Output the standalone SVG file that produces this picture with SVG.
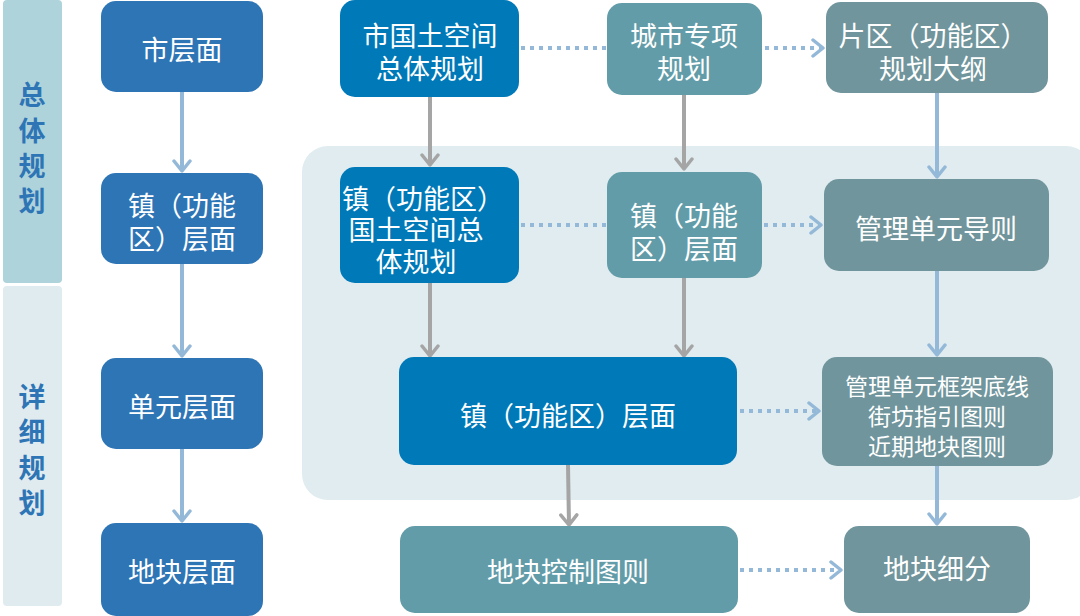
<svg xmlns="http://www.w3.org/2000/svg" width="1080" height="616" viewBox="0 0 1080 616">
<defs>
<style>
.t{font-family:"Noto Sans CJK SC","Noto Sans",sans-serif;fill:#fff;font-size:27px;text-anchor:middle}
.s{font-size:23px}
.band{font-family:"Noto Sans CJK SC","Noto Sans",sans-serif;fill:#2E75B6;font-size:27px;font-weight:bold;text-anchor:middle}
.lv{fill:#2E75B6}
.db{fill:#0079B8}
.tl{fill:#629CA8}
.gt{fill:#70959C}
.cb{stroke:#94B9D8;stroke-width:4;fill:none}
.cg{stroke:#A5A5A5;stroke-width:4;fill:none}
.cd{stroke:#94B9D8;stroke-width:4;fill:none;stroke-dasharray:4 5}
</style>
<marker id="ab" viewBox="0 0 14 20" refX="12" refY="10" markerWidth="14" markerHeight="20" markerUnits="userSpaceOnUse" orient="auto"><path d="M2,2 L12,10 L2,18" fill="none" stroke="#94B9D8" stroke-width="3.5" stroke-linecap="round" stroke-linejoin="round"/></marker>
<marker id="ag" viewBox="0 0 14 20" refX="12" refY="10" markerWidth="14" markerHeight="20" markerUnits="userSpaceOnUse" orient="auto"><path d="M2,2 L12,10 L2,18" fill="none" stroke="#A5A5A5" stroke-width="3.5" stroke-linecap="round" stroke-linejoin="round"/></marker>
</defs>
<rect width="1080" height="616" fill="#fff"/>
<g id="bands">
<rect x="3" y="0" width="59" height="283" rx="4" fill="#AED3DB"/>
<rect x="3" y="286" width="59" height="320" rx="4" fill="#DFEBEF"/>
<text class="band"><tspan x="32" y="105">总</tspan><tspan x="32" y="141">体</tspan><tspan x="32" y="176">规</tspan><tspan x="32" y="211">划</tspan></text>
<text class="band"><tspan x="32" y="407">详</tspan><tspan x="32" y="442">细</tspan><tspan x="32" y="478">规</tspan><tspan x="32" y="513">划</tspan></text>
</g>
<rect id="panel" x="302" y="146" width="790" height="354" rx="26" fill="#E0ECEF"/>
<g id="connectors">
<line class="cb" x1="182" y1="92" x2="182" y2="171" marker-end="url(#ab)"/>
<line class="cb" x1="182" y1="264" x2="182" y2="356" marker-end="url(#ab)"/>
<line class="cb" x1="182" y1="449" x2="182" y2="521" marker-end="url(#ab)"/>
<line class="cg" x1="430" y1="97" x2="430" y2="165" marker-end="url(#ag)"/>
<line class="cg" x1="684" y1="95" x2="684" y2="169" marker-end="url(#ag)"/>
<line class="cg" x1="430" y1="283" x2="430" y2="356" marker-end="url(#ag)"/>
<line class="cg" x1="684" y1="278" x2="684" y2="356" marker-end="url(#ag)"/>
<line class="cg" x1="568" y1="465" x2="569" y2="525" marker-end="url(#ag)"/>
<line class="cb" x1="937" y1="93" x2="937" y2="177" marker-end="url(#ab)"/>
<line class="cb" x1="937" y1="271" x2="937" y2="355" marker-end="url(#ab)"/>
<line class="cb" x1="937" y1="466" x2="937" y2="524" marker-end="url(#ab)"/>
<line class="cd" x1="521" y1="48" x2="606" y2="48"/>
<line class="cd" x1="765" y1="48" x2="823" y2="48" marker-end="url(#ab)"/>
<line class="cd" x1="521" y1="225" x2="606" y2="225"/>
<line class="cd" x1="764" y1="225" x2="821" y2="225" marker-end="url(#ab)"/>
<line class="cd" x1="740" y1="411" x2="819" y2="411" marker-end="url(#ab)"/>
<line class="cd" x1="740" y1="570" x2="841" y2="570" marker-end="url(#ab)"/>
</g>
<g id="n-city"><rect class="lv" x="101" y="1" width="162" height="91" rx="15"/><text class="t" x="182" y="60">市层面</text></g>
<g id="n-town"><rect class="lv" x="101" y="173" width="162" height="91" rx="15"/><text class="t"><tspan x="182" y="216">镇（功能</tspan><tspan x="182" y="249">区）层面</tspan></text></g>
<g id="n-unit"><rect class="lv" x="101" y="358" width="162" height="91" rx="15"/><text class="t" x="182" y="417">单元层面</text></g>
<g id="n-plot"><rect class="lv" x="101" y="523" width="162" height="93" rx="15"/><text class="t" x="182" y="582">地块层面</text></g>
<g id="n-citymaster"><rect class="db" x="340" y="0" width="179" height="97" rx="15"/><text class="t"><tspan x="430" y="46">市国土空间</tspan><tspan x="430" y="79">总体规划</tspan></text></g>
<g id="n-special"><rect class="tl" x="607" y="3" width="155" height="92" rx="15"/><text class="t"><tspan x="684" y="46">城市专项</tspan><tspan x="684" y="79">规划</tspan></text></g>
<g id="n-district"><rect class="gt" x="826" y="2" width="222" height="91" rx="15"/><text class="t"><tspan x="933" y="46">片区（功能区）</tspan><tspan x="933" y="79">规划大纲</tspan></text></g>
<g id="n-townmaster"><rect class="db" x="340" y="167" width="179" height="116" rx="15"/><text class="t"><tspan x="423" y="209">镇（功能区）</tspan><tspan x="416" y="240">国土空间总</tspan><tspan x="416" y="272">体规划</tspan></text></g>
<g id="n-townlevel"><rect class="tl" x="607" y="172" width="155" height="106" rx="15"/><text class="t"><tspan x="684" y="226">镇（功能</tspan><tspan x="684" y="259">区）层面</tspan></text></g>
<g id="n-guide"><rect class="gt" x="824" y="179" width="225" height="92" rx="15"/><text class="t" x="936" y="239">管理单元导则</text></g>
<g id="n-townbig"><rect class="db" x="399" y="357" width="338" height="108" rx="15"/><text class="t" x="568" y="426">镇（功能区）层面</text></g>
<g id="n-frame"><rect class="gt" x="822" y="357" width="231" height="109" rx="15"/><text class="t s"><tspan x="937" y="395">管理单元框架底线</tspan><tspan x="937" y="425">街坊指引图则</tspan><tspan x="937" y="455">近期地块图则</tspan></text></g>
<g id="n-plotctrl"><rect class="tl" x="400" y="526" width="338" height="87" rx="15"/><text class="t" x="568" y="582">地块控制图则</text></g>
<g id="n-subdiv"><rect class="gt" x="844" y="526" width="186" height="87" rx="15"/><text class="t" x="937" y="579">地块细分</text></g>
</svg>
